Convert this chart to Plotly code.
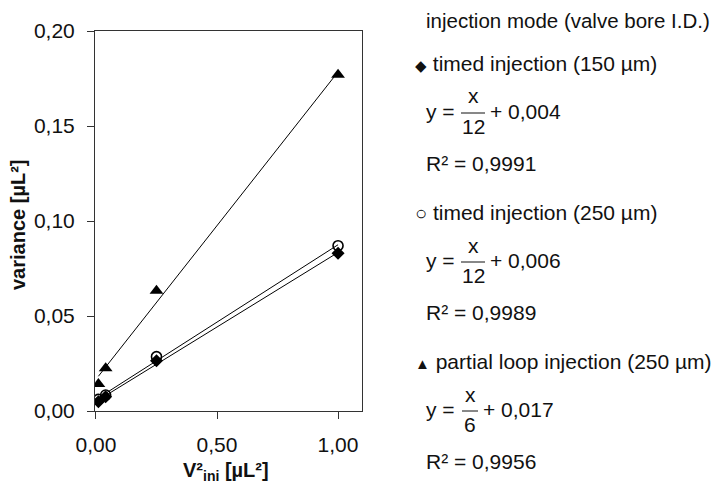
import numpy as np
import plotly.graph_objects as go

# ---- data ----
v2_ini = [0.01, 0.04, 0.25, 1.00]
var_timed_150 = [0.0049, 0.0075, 0.0265, 0.0830]
var_timed_250 = [0.0061, 0.0084, 0.0286, 0.0870]
var_partial_250 = [0.0142, 0.0225, 0.0633, 0.1770]

series_names = ["timed injection (150 µm)", "timed injection (250 µm)", "partial loop injection (250 µm)"]
eq_num = ["x", "x", "x"]
eq_den = ["12", "12", "6"]
eq_const = ["+ 0,004", "+ 0,006", "+ 0,017"]
r2_labels = ["R² = 0,9991", "R² = 0,9989", "R² = 0,9956"]
x_ticks = [0.0, 0.5, 1.0]
y_ticks = [0.0, 0.05, 0.10, 0.15, 0.20]

FONT = "Liberation Sans, Arial, sans-serif"
W, H = 715, 484
L, R, T, B = 95, 362, 31, 411  # plot area in pixels


def px(x):
    return (x - L) / (R - L)


def py(y):
    return (B - y) / (B - T)


fig = go.Figure()

series = [
    (var_timed_150, dict(symbol="diamond", size=10, color="black")),
    (var_timed_250, dict(symbol="circle-open", size=10, color="black", line=dict(width=1.6, color="black"))),
    (var_partial_250, dict(symbol="triangle-up", size=12, color="black")),
]

xs = np.array(v2_ini)
for ys, mk in series:
    slope, icpt = np.polyfit(xs, np.array(ys), 1)
    xl = np.array([xs.min(), xs.max()])
    fig.add_trace(go.Scatter(x=xl, y=slope * xl + icpt, mode="lines",
                             line=dict(color="black", width=1), showlegend=False, hoverinfo="skip"))
for ys, mk in series:
    fig.add_trace(go.Scatter(x=v2_ini, y=ys, mode="markers", marker=mk, showlegend=False))

axis_common = dict(showline=True, linecolor="#333", linewidth=1, mirror=True, ticks="outside",
                   ticklen=7, tickcolor="#333", showgrid=False, zeroline=False,
                   ticklabelstandoff=8,
                   tickfont=dict(family=FONT, size=21, color="#111"), tickformat=".2f")

fig.update_layout(
    width=W, height=H,
    margin=dict(l=L, r=W - R, t=T, b=H - B),
    plot_bgcolor="white", paper_bgcolor="white",
    separators=", ",
    xaxis=dict(range=[-0.004, 1.099], tickvals=x_ticks, **axis_common),
    yaxis=dict(range=[0, 0.2], tickvals=y_ticks, **axis_common),
    font=dict(family=FONT, color="#111"),
)

ann = []


def text(x, y, s, size=21, anchor="left", bold=False, angle=0):
    ann.append(dict(x=px(x), y=py(y), xref="paper", yref="paper", text=("<b>%s</b>" % s) if bold else s,
                    showarrow=False, xanchor=anchor, yanchor="middle", textangle=angle,
                    font=dict(family=FONT, size=size, color="#111")))


# axis titles
text(18, 225, "variance [µL²]", size=20, anchor="center", bold=True, angle=-90)
text(226, 471, "V²<sub>ini</sub> [µL²]", size=20, anchor="center", bold=True)

# legend block
text(424, 20, "injection mode (valve bore I.D.)", size=20.5)
symbols = ['<span style="font-size:15px">◆</span>', '<span style="font-size:20px">○</span>',
           '<span style="font-size:15px">▲</span>']
shapes = []
for i in range(3):
    base = 63 + 149 * i
    text(413, base, symbols[i] + " " + series_names[i])
    ey = base + 48
    text(424, ey, "y =")
    cx = 473 if i < 2 else 470
    half = 12 if i < 2 else 8
    text(cx, ey - 15, eq_num[i], anchor="center")
    text(cx, ey + 15, eq_den[i], anchor="center")
    shapes.append(dict(type="line", xref="paper", yref="paper", x0=px(cx - half), x1=px(cx + half),
                       y0=py(ey + 2), y1=py(ey + 2), line=dict(color="#111", width=1)))
    text(cx + half + 3, ey, eq_const[i])
    text(424, base + 100, r2_labels[i])

fig.update_layout(annotations=ann, shapes=shapes)
fig.write_html("out.html")
